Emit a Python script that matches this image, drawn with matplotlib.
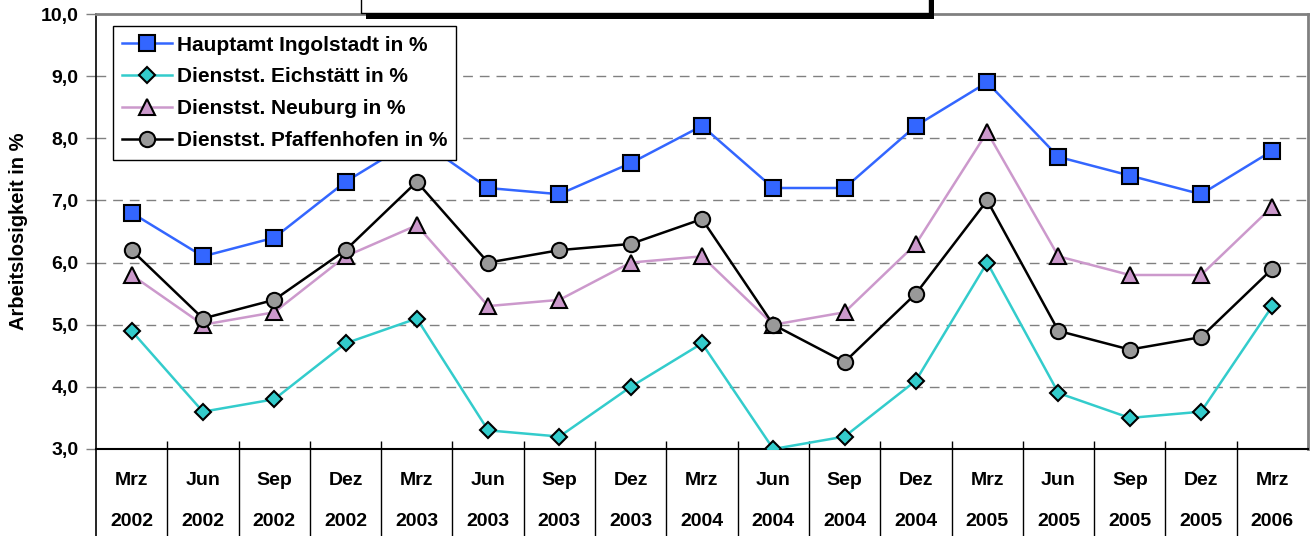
import numpy as np
import matplotlib.pyplot as plt
from matplotlib.patches import Rectangle
from matplotlib.ticker import FuncFormatter

plt.rcParams['font.family'] = ['Liberation Sans', 'DejaVu Sans']
plt.rcParams['font.weight'] = 'bold'

months = ['Mrz', 'Jun', 'Sep', 'Dez', 'Mrz', 'Jun', 'Sep', 'Dez', 'Mrz',
          'Jun', 'Sep', 'Dez', 'Mrz', 'Jun', 'Sep', 'Dez', 'Mrz']
years = ['2002', '2002', '2002', '2002', '2003', '2003', '2003', '2003', '2004',
         '2004', '2004', '2004', '2005', '2005', '2005', '2005', '2006']

ingolstadt = [6.8, 6.1, 6.4, 7.3, 8.0, 7.2, 7.1, 7.6, 8.2, 7.2, 7.2, 8.2, 8.9, 7.7, 7.4, 7.1, 7.8]
eichstaett = [4.9, 3.6, 3.8, 4.7, 5.1, 3.3, 3.2, 4.0, 4.7, 3.0, 3.2, 4.1, 6.0, 3.9, 3.5, 3.6, 5.3]
neuburg = [5.8, 5.0, 5.2, 6.1, 6.6, 5.3, 5.4, 6.0, 6.1, 5.0, 5.2, 6.3, 8.1, 6.1, 5.8, 5.8, 6.9]
pfaffenhofen = [6.2, 5.1, 5.4, 6.2, 7.3, 6.0, 6.2, 6.3, 6.7, 5.0, 4.4, 5.5, 7.0, 4.9, 4.6, 4.8, 5.9]

x = np.arange(len(months))

fig = plt.figure(figsize=(13.16, 5.36), dpi=100)
ax = fig.add_axes([96 / 1316, 1 - 449 / 536, 1212 / 1316, 435 / 536])

ax.plot(x, ingolstadt, color='#3366FF', lw=1.8, marker='s', ms=11, mfc='#3366FF',
        mec='black', mew=1.5, label='Hauptamt Ingolstadt in %', zorder=3)
ax.plot(x, eichstaett, color='#33CCCC', lw=1.8, marker='D', ms=8, mfc='#33CCCC',
        mec='black', mew=1.5, label='Dienstst. Eichstätt in %', zorder=3)
ax.plot(x, neuburg, color='#CC99CC', lw=1.8, marker='^', ms=11, mfc='#CC99CC',
        mec='black', mew=1.5, label='Dienstst. Neuburg in %', zorder=3)
ax.plot(x, pfaffenhofen, color='black', lw=1.8, marker='o', ms=11, mfc='#999999',
        mec='black', mew=1.5, label='Dienstst. Pfaffenhofen in %', zorder=3)

ax.set_xlim(-0.5, len(months) - 0.5)
ax.set_ylim(3, 10)
ax.set_yticks(np.arange(3, 11, 1))
ax.yaxis.set_major_formatter(FuncFormatter(lambda v, p: f'{v:.1f}'.replace('.', ',')))
ax.tick_params(axis='y', length=7, width=1, color='#808080', labelsize=14, pad=5.5)
ax.set_xticks(np.arange(0.5, len(months) - 1, 1))
ax.tick_params(axis='x', direction='in', length=6, width=1, color='black', labelbottom=False)
for v in range(4, 10):
    ax.axhline(v, color='#808080', lw=1, ls=(0, (7, 5)), zorder=1)

ax.spines['top'].set_color('#808080')
ax.spines['right'].set_color('#808080')
ax.spines['top'].set_linewidth(2)
ax.spines['right'].set_linewidth(2)
ax.spines['left'].set_linewidth(1.2)
ax.spines['bottom'].set_linewidth(1.5)

ax.set_ylabel('Arbeitslosigkeit in %', fontsize=14.5, fontweight='bold', labelpad=9)

# table below the axis
trans = ax.get_xaxis_transform()
for b in np.arange(0.5, len(months) - 1, 1):
    ax.plot([b, b], [0, -0.22], transform=trans, color='black', lw=1, clip_on=False)
ax.plot([-0.5, -0.5], [0, -0.22], transform=trans, color='black', lw=1.2, clip_on=False)
for i in range(len(months)):
    ax.text(i, -0.072, months[i], transform=trans, ha='center', va='center',
            fontsize=14, fontweight='bold')
    ax.text(i, -0.166, years[i], transform=trans, ha='center', va='center',
            fontsize=14, fontweight='bold')

leg = ax.legend(loc='upper left', bbox_to_anchor=(0.014, 0.972), fontsize=15,
                frameon=True, fancybox=False, edgecolor='black', framealpha=1,
                handlelength=2.4, labelspacing=0.62, borderpad=0.45, handletextpad=0.2,
                borderaxespad=0)
leg.get_frame().set_linewidth(1)
leg.set_zorder(5)
for t in leg.get_texts():
    t.set_fontweight('bold')

# title box (cut off at the top)
fig.patches.append(Rectangle((366 / 1316, 1 - 19 / 536), 568 / 1316, 40 / 536,
                             transform=fig.transFigure, facecolor='black', zorder=5))
fig.patches.append(Rectangle((361 / 1316, 1 - 13 / 536), 568 / 1316, 40 / 536,
                             transform=fig.transFigure, facecolor='white',
                             edgecolor='black', lw=1, zorder=6))

fig.savefig('out.png', dpi=100)
